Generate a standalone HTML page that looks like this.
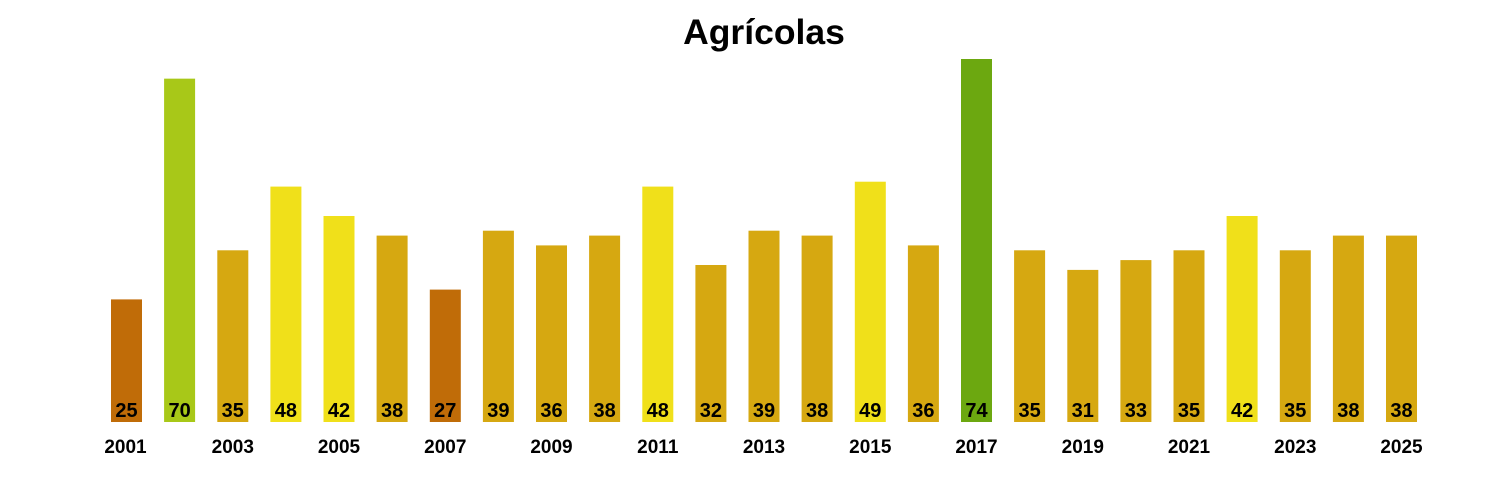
<!DOCTYPE html>
<html><head><meta charset="utf-8"><style>body{margin:0;background:#fff}svg{display:block}text{font-family:"Liberation Sans",Arial,sans-serif;font-weight:bold}</style></head><body>
<svg width="1500" height="500" viewBox="0 0 1500 500">
<rect width="1500" height="500" fill="#fff"/>
<text x="764" y="44" font-size="35.5" text-anchor="middle">Agrícolas</text>
<g>
<rect x="111" y="299.4" width="31" height="122.6" fill="#C06C08"/>
<rect x="164.1" y="78.65" width="31" height="343.35" fill="#A8C818"/>
<rect x="217.3" y="250.3" width="31" height="171.7" fill="#D6A811"/>
<rect x="270.4" y="186.6" width="31" height="235.4" fill="#F0E01A"/>
<rect x="323.5" y="216" width="31" height="206" fill="#F0E01A"/>
<rect x="376.6" y="235.6" width="31" height="186.4" fill="#D6A811"/>
<rect x="429.8" y="289.6" width="31" height="132.4" fill="#C06C08"/>
<rect x="482.9" y="230.7" width="31" height="191.3" fill="#D6A811"/>
<rect x="536" y="245.4" width="31" height="176.6" fill="#D6A811"/>
<rect x="589.1" y="235.6" width="31" height="186.4" fill="#D6A811"/>
<rect x="642.3" y="186.6" width="31" height="235.4" fill="#F0E01A"/>
<rect x="695.4" y="265" width="31" height="157" fill="#D6A811"/>
<rect x="748.5" y="230.7" width="31" height="191.3" fill="#D6A811"/>
<rect x="801.6" y="235.6" width="31" height="186.4" fill="#D6A811"/>
<rect x="854.8" y="181.7" width="31" height="240.3" fill="#F0E01A"/>
<rect x="907.9" y="245.4" width="31" height="176.6" fill="#D6A811"/>
<rect x="961" y="59" width="31" height="363" fill="#6CA810"/>
<rect x="1014.1" y="250.3" width="31" height="171.7" fill="#D6A811"/>
<rect x="1067.3" y="269.9" width="31" height="152.1" fill="#D6A811"/>
<rect x="1120.4" y="260.1" width="31" height="161.9" fill="#D6A811"/>
<rect x="1173.5" y="250.3" width="31" height="171.7" fill="#D6A811"/>
<rect x="1226.6" y="216" width="31" height="206" fill="#F0E01A"/>
<rect x="1279.8" y="250.3" width="31" height="171.7" fill="#D6A811"/>
<rect x="1332.9" y="235.6" width="31" height="186.4" fill="#D6A811"/>
<rect x="1386" y="235.6" width="31" height="186.4" fill="#D6A811"/>
</g>
<g font-size="20" text-anchor="middle">
<text x="126.5" y="417">25</text><text x="179.6" y="417">70</text><text x="232.8" y="417">35</text><text x="285.9" y="417">48</text><text x="339" y="417">42</text><text x="392.1" y="417">38</text><text x="445.3" y="417">27</text><text x="498.4" y="417">39</text><text x="551.5" y="417">36</text><text x="604.6" y="417">38</text><text x="657.8" y="417">48</text><text x="710.9" y="417">32</text><text x="764" y="417">39</text><text x="817.1" y="417">38</text><text x="870.3" y="417">49</text><text x="923.4" y="417">36</text><text x="976.5" y="417">74</text><text x="1029.6" y="417">35</text><text x="1082.8" y="417">31</text><text x="1135.9" y="417">33</text><text x="1189" y="417">35</text><text x="1242.1" y="417">42</text><text x="1295.3" y="417">35</text><text x="1348.4" y="417">38</text><text x="1401.5" y="417">38</text>
</g>
<g font-size="19" text-anchor="middle">
<text x="125.5" y="453">2001</text><text x="232.8" y="453">2003</text><text x="339" y="453">2005</text><text x="445.3" y="453">2007</text><text x="551.5" y="453">2009</text><text x="657.8" y="453">2011</text><text x="764" y="453">2013</text><text x="870.3" y="453">2015</text><text x="976.5" y="453">2017</text><text x="1082.8" y="453">2019</text><text x="1189" y="453">2021</text><text x="1295.3" y="453">2023</text><text x="1401.5" y="453">2025</text>
</g>
</svg>
</body></html>
